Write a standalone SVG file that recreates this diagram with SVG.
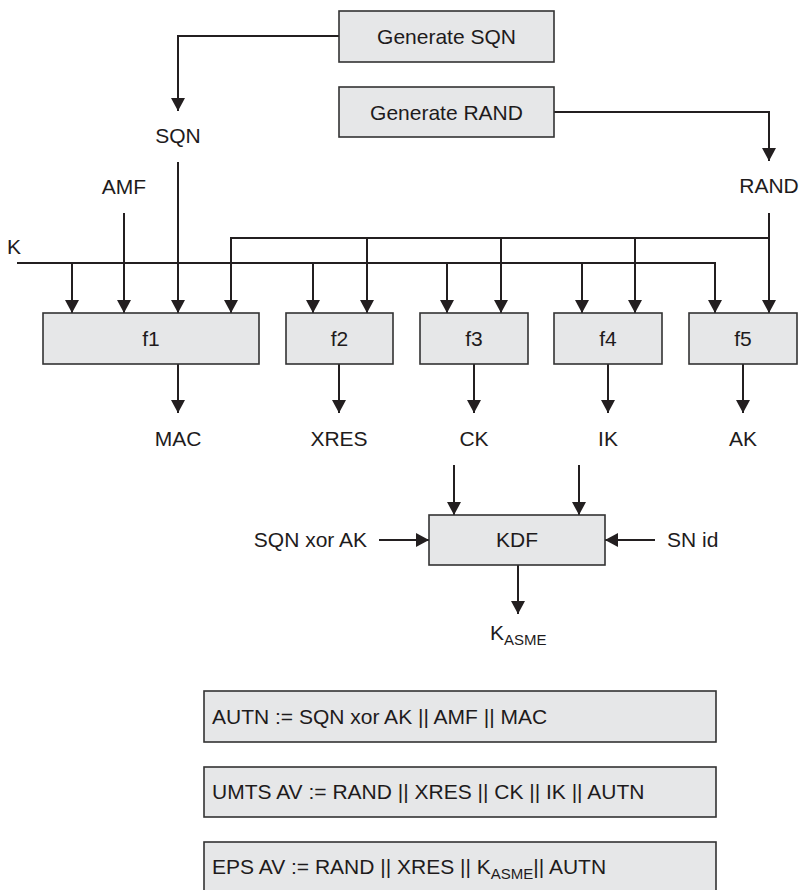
<svg xmlns="http://www.w3.org/2000/svg" width="802" height="890" viewBox="0 0 802 890">
<style>
text{font-family:"Liberation Sans",Arial,sans-serif;font-size:21px;fill:#1e1b1c}
.c{text-anchor:middle}
.box{fill:#e6e7e8;stroke:#333;stroke-width:1.6}
.ln{fill:none;stroke:#231f20;stroke-width:2}
.ar{marker-end:url(#ah)}
</style>
<defs>
<marker id="ah" markerUnits="userSpaceOnUse" markerWidth="14" markerHeight="15" refX="13" refY="7.5" orient="auto" viewBox="0 0 14 15">
<path d="M0,0.5 L13,7.5 L0,14.5 z" fill="#231f20"/>
</marker>
</defs>
<rect width="802" height="890" fill="#fff"/>
<g id="connectors">
<path class="ln ar" d="M339,36 H178 V111"/>
<path class="ln ar" d="M554,112 H769 V161"/>
<path class="ln ar" d="M17,263 H715 V313"/>
<path class="ln ar" d="M72,263 V313"/>
<path class="ln ar" d="M313,263 V313"/>
<path class="ln ar" d="M447,263 V313"/>
<path class="ln ar" d="M582,263 V313"/>
<path class="ln ar" d="M124,213 V313"/>
<path class="ln ar" d="M178,162 V313"/>
<path class="ln ar" d="M769,213 V313"/>
<path class="ln ar" d="M769,238 H231 V313"/>
<path class="ln ar" d="M367,238 V313"/>
<path class="ln ar" d="M501,238 V313"/>
<path class="ln ar" d="M635,238 V313"/>
<path class="ln ar" d="M178,364 V413"/>
<path class="ln ar" d="M339,364 V413"/>
<path class="ln ar" d="M474,364 V413"/>
<path class="ln ar" d="M608,364 V413"/>
<path class="ln ar" d="M743,364 V413"/>
<path class="ln ar" d="M454,465 V515"/>
<path class="ln ar" d="M579,465 V515"/>
<path class="ln ar" d="M379,540 H429"/>
<path class="ln ar" d="M655,540 H605"/>
<path class="ln ar" d="M518,565 V614"/>
</g>
<g id="gen-sqn"><rect class="box" x="339" y="11" width="215" height="51"/><text class="c" x="446.5" y="44">Generate SQN</text></g>
<g id="gen-rand"><rect class="box" x="339" y="87" width="215" height="50"/><text class="c" x="446.5" y="120">Generate RAND</text></g>
<g id="lbl-sqn"><text class="c" x="178" y="143">SQN</text></g>
<g id="lbl-rand"><text class="c" x="769" y="193">RAND</text></g>
<g id="lbl-amf"><text class="c" x="124" y="194">AMF</text></g>
<g id="lbl-k"><text x="7" y="254">K</text></g>
<g id="f1"><rect class="box" x="43" y="313" width="216" height="51"/><text class="c" x="151" y="346">f1</text></g>
<g id="f2"><rect class="box" x="286" y="313" width="107" height="51"/><text class="c" x="339.5" y="346">f2</text></g>
<g id="f3"><rect class="box" x="420" y="313" width="108" height="51"/><text class="c" x="474" y="346">f3</text></g>
<g id="f4"><rect class="box" x="554" y="313" width="108" height="51"/><text class="c" x="608" y="346">f4</text></g>
<g id="f5"><rect class="box" x="689" y="313" width="108" height="51"/><text class="c" x="743" y="346">f5</text></g>
<g id="lbl-mac"><text class="c" x="178" y="446">MAC</text></g>
<g id="lbl-xres"><text class="c" x="339" y="446">XRES</text></g>
<g id="lbl-ck"><text class="c" x="474" y="446">CK</text></g>
<g id="lbl-ik"><text class="c" x="608" y="446">IK</text></g>
<g id="lbl-ak"><text class="c" x="743" y="446">AK</text></g>
<g id="kdf"><rect class="box" x="429" y="515" width="176" height="50"/><text class="c" x="517" y="547">KDF</text></g>
<g id="lbl-sqnxorak"><text x="367" y="547" text-anchor="end">SQN xor AK</text></g>
<g id="lbl-snid"><text x="667" y="547">SN id</text></g>
<g id="lbl-kasme"><text x="490" y="640">K<tspan font-size="15" dy="4.5">ASME</tspan></text></g>
<g id="autn"><rect class="box" x="204" y="691" width="512" height="51"/><text x="212" y="724">AUTN := SQN xor AK || AMF || MAC</text></g>
<g id="umts"><rect class="box" x="204" y="767" width="512" height="50"/><text x="212" y="799">UMTS AV := RAND || XRES || CK || IK || AUTN</text></g>
<g id="eps"><rect class="box" x="204" y="842" width="512" height="60"/><text x="212" y="874">EPS AV := RAND || XRES || K<tspan font-size="15" dy="4.5">ASME</tspan><tspan dy="-4.5">|| AUTN</tspan></text></g>
</svg>
